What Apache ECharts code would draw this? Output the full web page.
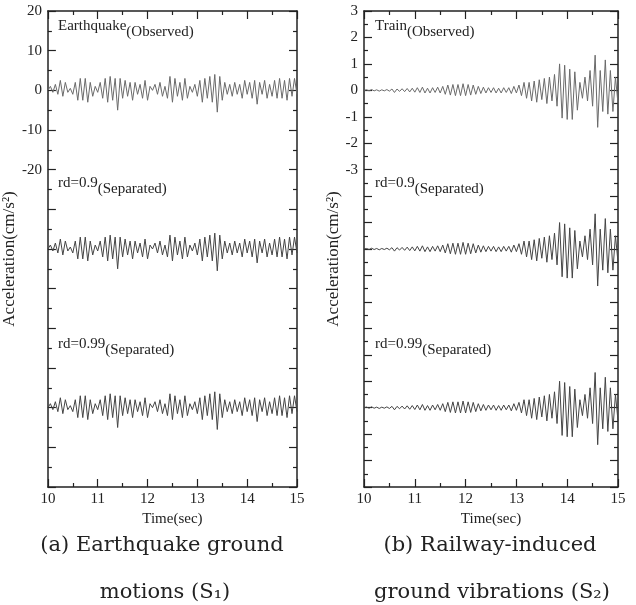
<!DOCTYPE html>
<html>
<head>
<meta charset="utf-8">
<script src="https://cdn.jsdelivr.net/npm/echarts@6/dist/echarts.min.js"></script>
<style>
  html, body { margin: 0; padding: 0; background: #fff; }
  #chart { width: 636px; height: 605px; }
</style>
</head>
<body>
<div id="chart"></div>
<script>
// sample times: 10.00 s .. 15.00 s every 0.05 s
const tStart = 10;
const tStep = 0.05;

// earthquake record (cm/s^2)
const eqObserved = [
  0, 1.0, -0.5, 1.5, -1.0, 2.5, -1.5, 2.0, -0.5, 0.5,
  -1.0, 2.0, -2.5, 3.0, -2.5, 3.0, -3.0, 2.0, -1.5, 1.0,
  -0.5, 2.0, -2.0, 3.0, -3.0, 3.5, -2.5, 3.0, -5.0, 3.0,
  -2.0, 2.5, -1.5, 2.0, -2.5, 2.0, -1.0, 1.5, -2.0, 2.5,
  -2.5, 1.0, 0.0, 1.5, -1.0, 2.0, -1.5, 1.0, -2.0, 3.5,
  -3.0, 3.0, -1.5, 2.0, -2.5, 3.0, -2.0, 1.0, -0.5, 1.5,
  -1.5, 2.5, -3.0, 3.0, -2.0, 3.5, -3.0, 4.0, -5.5, 3.5,
  -2.5, 2.0, -1.0, 1.5, -1.5, 2.0, -1.0, 1.5, -2.0, 2.5,
  -1.0, 2.0, -2.0, 2.5, -3.5, 2.0, -1.0, 2.5, -2.0, 1.5,
  -1.5, 2.5, -2.0, 3.0, -2.0, 2.5, -2.5, 3.0, -1.5, 3.0,
  -1.0
];
// separated traces look the same as the observed one at this scale
const eqSep09 = eqObserved;
const eqSep099 = eqObserved;

// train record (cm/s^2)
const trainObserved = [
  0, 0.02, -0.02, 0.03, -0.02, 0.02, -0.03, 0.02, -0.02, 0.03,
  -0.03, 0.05, -0.08, 0.05, -0.04, 0.06, -0.05, 0.07, -0.06, 0.08,
  -0.07, 0.1, -0.08, 0.12, -0.1, 0.08, -0.1, 0.1, -0.08, 0.12,
  -0.1, 0.15, -0.15, 0.2, -0.18, 0.22, -0.2, 0.22, -0.2, 0.25,
  -0.2, 0.22, -0.18, 0.2, -0.15, 0.15, -0.12, 0.12, -0.1, 0.1,
  -0.08, 0.1, -0.1, 0.08, -0.1, 0.1, -0.08, 0.1, -0.12, 0.15,
  -0.1, 0.2, -0.2, 0.3, -0.3, 0.3, -0.4, 0.35, -0.45, 0.4,
  -0.35, 0.45, -0.5, 0.5, -0.4, 0.6, -0.6, 1.0, -1.05, 0.95,
  -1.1, 0.8, -1.1, 0.7, -0.75, 0.3, -0.3, 0.5, -0.4, 0.75,
  -0.6, 1.33, -1.4, 0.75, -0.8, 1.15, -0.9, 0.75, -0.8, 0.5,
  -0.5
];
const trainSep09 = trainObserved;
const trainSep099 = trainObserved;

// vertical shift of the three stacked traces in each panel
const eqOffsets = [0, -40, -80];
const trainOffsets = [0, -6, -12];

const eqLabels = ['Earthquake', 'rd=0.9', 'rd=0.99'];
const trainLabels = ['Train', 'rd=0.9', 'rd=0.99'];
const subLabels = ['(Observed)', '(Separated)', '(Separated)'];

const serif = 'Liberation Serif';
const ink = '#222';

function toPoints(values, offset) {
  return values.map((v, i) => [tStart + i * tStep, v + offset]);
}

function xAxes(grid) {
  const common = {
    gridIndex: grid, type: 'value', min: 10, max: 15, interval: 1,
    axisLine: {onZero: false, lineStyle: {color: ink, width: 1.5}},
    axisTick: {inside: true, length: 8, lineStyle: {color: ink, width: 1.2}},
    minorTick: {show: true, splitNumber: 2, length: 4, lineStyle: {color: ink, width: 1.2}},
    splitLine: {show: false}
  };
  return [
    Object.assign({}, common, {
      position: 'bottom',
      axisLabel: {color: ink, fontFamily: serif, fontSize: 15, margin: 5},
      name: 'Time(sec)', nameLocation: 'middle', nameGap: 24,
      nameTextStyle: {color: ink, fontFamily: serif, fontSize: 15}
    }),
    Object.assign({}, common, {position: 'top', axisLabel: {show: false}})
  ];
}

function yAxes(grid, min, max, interval, lowestLabel) {
  const common = {
    gridIndex: grid, type: 'value', min: min, max: max, interval: interval,
    axisLine: {onZero: false, lineStyle: {color: ink, width: 1.5}},
    axisTick: {inside: true, length: 8, lineStyle: {color: ink, width: 1.2}},
    minorTick: {show: true, splitNumber: 2, length: 4, lineStyle: {color: ink, width: 1.2}},
    splitLine: {show: false}
  };
  return [
    Object.assign({}, common, {
      position: 'left',
      axisLabel: {
        color: ink, fontFamily: serif, fontSize: 15, margin: 6,
        formatter: v => (v >= lowestLabel ? String(v) : '')
      },
      name: 'Acceleration(cm/s²)', nameLocation: 'middle', nameRotate: 90,
      nameGap: grid === 0 ? 16 : 14,
      nameTextStyle: {color: ink, fontFamily: serif, fontSize: 17, padding: [0, 20, 0, 0]}
    }),
    Object.assign({}, common, {position: 'right', axisLabel: {show: false}})
  ];
}

function traces(list, offsets, xIdx, yIdx, colors) {
  return list.map((vals, k) => ({
    type: 'line',
    xAxisIndex: xIdx,
    yAxisIndex: yIdx,
    data: toPoints(vals, offsets[k]),
    showSymbol: false,
    smooth: false,
    lineStyle: {color: colors[k], width: 1},
    silent: true
  }));
}

function tag(x, y, main, sub) {
  return {
    type: 'text', left: x, top: y,
    style: {
      text: '{a|' + main + '}{b|' + sub + '}',
      rich: {
        a: {fontFamily: serif, fontSize: 15, fill: ink, lineHeight: 21, verticalAlign: 'top'},
        b: {fontFamily: serif, fontSize: 15, fill: ink, lineHeight: 21, verticalAlign: 'bottom'}
      }
    }
  };
}

function caption(cx, y, text) {
  return {
    type: 'text', x: cx, y: y,
    style: {text: text, fontFamily: 'DejaVu Serif', fontSize: 21, fill: ink, align: 'center', verticalAlign: 'middle'}
  };
}

const traceColors = ['#6a6a6a', '#444', '#444'];
const tagRows = [19, 176, 337];

const chart = echarts.init(document.getElementById('chart'), null, {renderer: 'canvas'});
chart.setOption({
  animation: false,
  backgroundColor: '#fff',
  grid: [
    {left: 43, top: 11, width: 254, height: 476},
    {left: 364, top: 11, width: 254, height: 476}
  ],
  xAxis: xAxes(0).concat(xAxes(1)),
  yAxis: yAxes(0, -100, 20, 10, -20).concat(yAxes(1, -15, 3, 1, -3)),
  series: traces([eqObserved, eqSep09, eqSep099], eqOffsets, 0, 0, traceColors)
    .concat(traces([trainObserved, trainSep09, trainSep099], trainOffsets, 2, 2, traceColors)),
  graphic: eqLabels.map((m, k) => tag(58, tagRows[k], m, subLabels[k]))
    .concat(trainLabels.map((m, k) => tag(375, tagRows[k], m, subLabels[k])))
    .concat([
      caption(162, 546, '(a) Earthquake ground'),
      caption(165, 593, 'motions (S₁)'),
      caption(490, 546, '(b) Railway-induced'),
      caption(492, 593, 'ground vibrations (S₂)')
    ])
});
</script>
</body>
</html>
